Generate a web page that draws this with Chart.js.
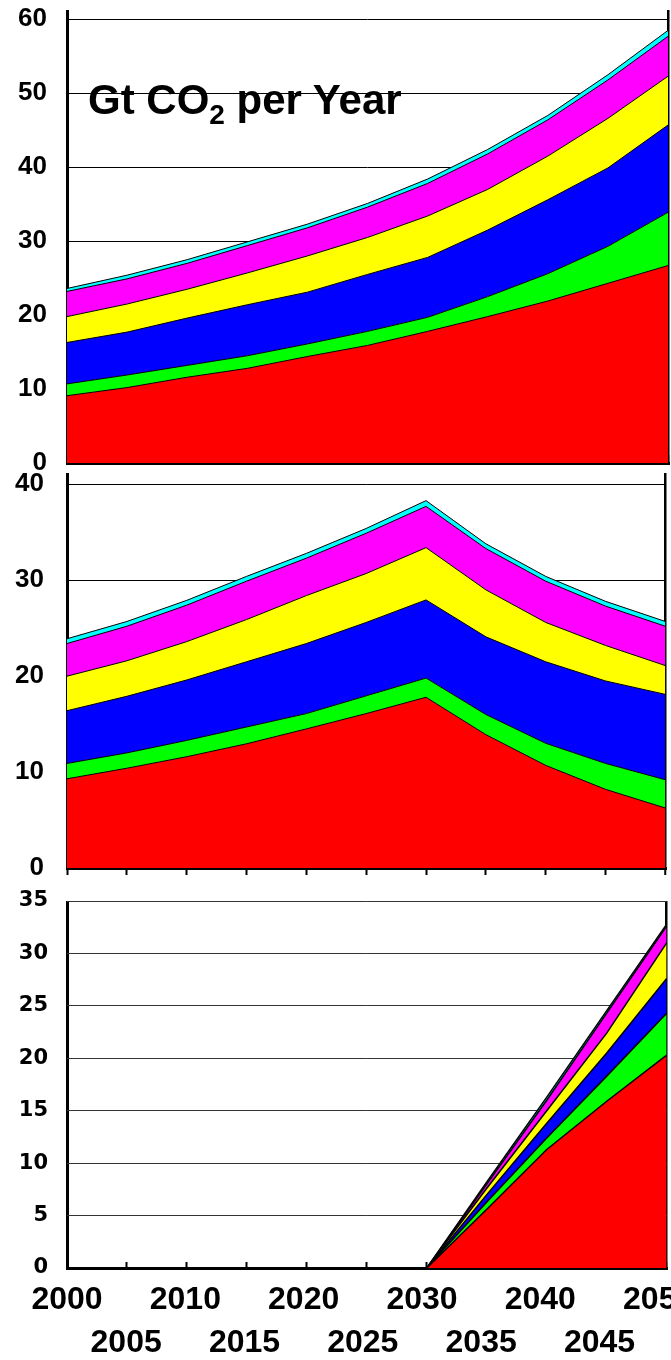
<!DOCTYPE html>
<html>
<head>
<meta charset="utf-8">
<script src="https://cdn.jsdelivr.net/npm/chart.js@4.4.1/dist/chart.umd.min.js"></script>
<style>
  html, body { margin:0; padding:0; background:#fff; }
  body { width:671px; height:1360px; overflow:hidden; position:relative; }
  .panel { position:absolute; left:0; }
  #title { position:absolute; left:88px; top:79px; font-family:"Liberation Sans", Arial, sans-serif; font-weight:bold; font-size:42px; line-height:42px; color:#000; white-space:nowrap; z-index:5; }
  #title span { font-size:28px; vertical-align:-10px; }
</style>
</head>
<body>
<div class="panel" style="top:0;"><canvas id="c1" width="671" height="470"></canvas></div>
<div class="panel" style="top:470px;"><canvas id="c2" width="671" height="410"></canvas></div>
<div class="panel" style="top:880px;"><canvas id="c3" width="671" height="480"></canvas></div>
<div id="title">Gt CO<span>2</span> per Year</div>
<script>
// ---- data ----
const years = ['2000','2005','2010','2015','2020','2025','2030','2035','2040','2045','2050'];
const layerColors = ['#ff0000','#00ff00','#0000ff','#ffff00','#ff00ff','#00ffff'];

// Panel 1 (upper)
const p1Red     = [9.1,10.2,11.6,12.8,14.4,15.9,17.8,19.8,21.9,24.3,26.7];
const p1Green   = [1.6,1.7,1.6,1.7,1.7,1.9,1.9,2.7,3.7,5.0,7.2];
const p1Blue    = [5.6,5.8,6.4,6.9,7.0,7.7,8.1,9.0,10.0,10.6,11.8];
const p1Yellow  = [3.5,3.8,3.9,4.3,4.9,5.0,5.6,5.5,5.9,6.7,6.6];
const p1Magenta = [3.4,3.4,3.5,3.7,3.8,4.1,4.4,4.8,4.9,5.2,5.4];
const p1Cyan    = [0.4,0.5,0.5,0.5,0.5,0.5,0.6,0.6,0.6,0.7,0.8];

// Panel 2 (middle)
const p2Red     = [9.3,10.4,11.6,12.95,14.5,16.1,17.8,13.9,10.7,8.2,6.25];
const p2Green   = [1.6,1.6,1.7,1.75,1.6,1.85,2.0,2.1,2.3,2.7,2.95];
const p2Blue    = [5.5,5.9,6.3,6.8,7.3,7.65,8.15,8.1,8.5,8.6,8.9];
const p2Yellow  = [3.6,3.7,4.0,4.4,5.0,5.1,5.45,4.9,4.1,3.7,3.0];
const p2Magenta = [3.4,3.6,3.8,4.0,3.9,4.2,4.3,4.3,4.3,4.1,4.1];
const p2Cyan    = [0.5,0.5,0.5,0.5,0.5,0.5,0.6,0.5,0.5,0.5,0.5];

// Panel 3 (lower)
const p3Red     = [0,0,0,0,0,0,0,5.6,11.3,15.9,20.3];
const p3Green   = [0,0,0,0,0,0,0,0.7,1.1,2.4,4.0];
const p3Blue    = [0,0,0,0,0,0,0,0.7,1.4,2.2,3.3];
const p3Yellow  = [0,0,0,0,0,0,0,0.6,1.2,1.9,3.4];
const p3Magenta = [0,0,0,0,0,0,0,0.4,1.0,1.9,1.6];
const p3Cyan    = [0,0,0,0,0,0,0,0.2,0.3,0.25,0.2];

// y tick steps
const p1Step = 10, p2Step = 10, p3Step = 5;

// ---- chart building ----
function datasets(series, lw) {
  return series.map((d, i) => ({
    data: d,
    backgroundColor: layerColors[i],
    borderColor: '#000',
    borderWidth: lw,
    pointRadius: 0,
    tension: 0,
    fill: i === 0 ? 'origin' : '-1',
    xAxisID: 'x',
    yAxisID: 'y'
  }));
}

function xScale(tickLen) {
  return {
    type: 'category',
    position: 'bottom',
    z: 1,
    ticks: { display: false },
    grid: {
      display: true,
      drawOnChartArea: true,
      drawTicks: true,
      tickLength: tickLen,
      tickColor: '#000',
      tickWidth: 2,
      color: c => (c.index === 0 || c.index === years.length - 1) ? '#000' : 'rgba(0,0,0,0)',
      lineWidth: c => c.index === 0 ? 3 : (c.index === years.length - 1 ? 2.5 : 1)
    },
    border: { display: true, color: '#000', width: 3 },
    afterFit: s => { s.height = 0; s.paddingLeft = 0; s.paddingRight = 0; }
  };
}

function yScale(max, step, font, pad, gridColor) {
  return {
    stacked: true,
    min: 0,
    max: max,
    ticks: { stepSize: step, includeBounds: false, font: font, color: '#000', padding: pad },
    grid: { color: gridColor, lineWidth: 1, drawTicks: false },
    border: { display: false },
    afterFit: s => { s.width = 67; s.paddingTop = 0; s.paddingBottom = 0; }
  };
}

const labelFontA = { family: '"Liberation Sans", Arial, sans-serif', size: 26, weight: 'bold' };
const labelFontB = { family: '"DejaVu Sans", Verdana, sans-serif', size: 21, weight: 'bold' };

function baseOptions(padding, scales) {
  return {
    responsive: false,
    animation: false,
    layout: { padding: padding },
    plugins: { legend: { display: false }, tooltip: { enabled: false }, title: { display: false } },
    scales: scales
  };
}

new Chart(document.getElementById('c1'), {
  type: 'line',
  data: { labels: years, datasets: datasets([p1Red, p1Green, p1Blue, p1Yellow, p1Magenta, p1Cyan], 1) },
  options: baseOptions({ left: 0, right: 3, top: 10, bottom: 7 }, {
    x: xScale(-8),
    y: yScale(61.26, p1Step, labelFontA, 20, '#000')
  })
});

new Chart(document.getElementById('c2'), {
  type: 'line',
  data: { labels: years, datasets: datasets([p2Red, p2Green, p2Blue, p2Yellow, p2Magenta, p2Cyan], 1) },
  options: baseOptions({ left: 0, right: 5.6, top: 3, bottom: 12 }, {
    x: xScale(7),
    y: yScale(41.18, p2Step, labelFontA, 23, '#000')
  })
});

const x3 = xScale(-6);
const x2 = {
  type: 'linear',
  position: 'bottom',
  min: Number(years[0]),
  max: 2050.68,
  grid: { display: false, drawTicks: false },
  border: { display: false },
  ticks: {
    stepSize: 5,
    includeBounds: false,
    autoSkip: false,
    maxRotation: 0,
    minRotation: 0,
    color: '#000',
    padding: 10.5,
    font: { family: '"Liberation Sans", Arial, sans-serif', size: 32, weight: 'bold', lineHeight: 1.344 },
    callback: v => {
      const i = Math.round((v - Number(years[0])) / 5);
      const lab = years[i];
      if (lab === undefined) return '';
      return i % 2 === 0 ? [lab, ''] : ['', lab];
    }
  },
  afterFit: s => { s.height = 92; s.paddingLeft = 0; s.paddingRight = 0; }
};

new Chart(document.getElementById('c3'), {
  type: 'line',
  data: { labels: years, datasets: datasets([p3Red, p3Green, p3Blue, p3Yellow, p3Magenta, p3Cyan], 1.5) },
  options: baseOptions({ left: 0, right: 4.3, top: 21, bottom: 0 }, {
    x: x3,
    x2: x2,
    y: yScale(35, p3Step, labelFontB, 19, '#333')
  })
});
</script>
</body>
</html>
